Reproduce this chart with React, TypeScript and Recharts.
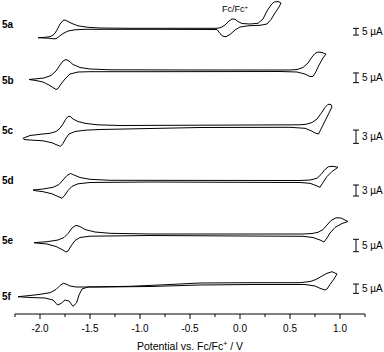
import React from "react";
import { LineChart, Line, XAxis, YAxis, ReferenceLine, ReferenceDot, Label } from "recharts";

// ---- data (potential in V vs Fc/Fc+, current in display units, + = anodic) ----
const traceNames = ["5a", "5b", "5c", "5d", "5e", "5f"];
const traceOffsets = [285.7, 244, 188.5, 133.3, 80, 27.3];
const labelOffsets = [4.3, -10, -4.5, 0, -6.5, -9.3];
const scaleBarLabels = ["5 µA", "5 µA", "3 µA", "3 µA", "5 µA", "5 µA"];
const scaleBarLengths = [6.7, 9.7, 13.3, 11, 12.4, 9.3];
const scaleBarCenters = [-3.4, -7.8, -11.2, -9.8, -11.5, -2];

const potential5a = [-2.02, -1.95, -1.9, -1.86, -1.83, -1.8, -1.77, -1.75, -1.72, -1.68, -1.62, -1.52, -1.4, -1.1, -0.23, -0.19, -0.15, -0.11, -0.08, -0.05, -0.02, 0.02, 0.1, 0.18, 0.23, 0.27, 0.31, 0.34, 0.38, 0.41, 0.39, 0.35, 0.31, 0.27, 0.2, 0.08, 0.0, -0.05, -0.1, -0.14, -0.17, -0.2, -0.23, -0.9, -1.4, -1.55, -1.65, -1.72, -1.77, -1.81, -1.84, -1.87, -1.9, -1.96, -2.02];
const current5a = [-9.4, -9.0, -8.4, -6.2, -1.7, 4.3, 7.8, 8.3, 6.8, 4.8, 2.5, 1.0, 0.3, 0, 0, 0.8, 3.3, 7.3, 9.3, 9.1, 6.8, 4.8, 4.3, 5.0, 9.3, 17.3, 23.3, 26.3, 26.8, 25.3, 21.3, 15.3, 8.8, 4.3, 3.0, 2.5, 1.3, -1.7, -6.2, -8.4, -8.0, -5.2, -1.2, -1.0, -1.0, -1.0, -1.5, -2.7, -5.2, -8.2, -10.4, -10.5, -10.0, -9.7, -9.4];

const potential5b = [-2.11, -2.04, -1.96, -1.89, -1.84, -1.8, -1.77, -1.74, -1.71, -1.67, -1.6, -1.5, -1.3, -0.4, 0.5, 0.57, 0.63, 0.68, 0.72, 0.75, 0.78, 0.82, 0.86, 0.83, 0.79, 0.76, 0.73, 0.7, 0.65, 0.57, 0.4, -0.9, -1.5, -1.62, -1.7, -1.75, -1.79, -1.82, -1.84, -1.87, -1.91, -1.97, -2.04, -2.11];
const current5b = [-9.5, -8.8, -8.0, -5.5, -1.0, 5.0, 9.0, 10.5, 9.0, 5.5, 2.5, 1.0, 0.2, 0, 0, 0.5, 2.5, 7, 13, 16.5, 18, 17.5, 16, 12, 5, -1.5, -6.5, -6.5, -4, -2, -1.5, -1.7, -1.7, -2.0, -4, -9, -14, -18.5, -19.5, -17.5, -15, -12, -10.5, -9.5];

const potential5c = [-2.17, -2.1, -2.0, -1.9, -1.84, -1.8, -1.77, -1.745, -1.72, -1.7, -1.67, -1.62, -1.55, -1.43, -1.2, 0.6, 0.66, 0.72, 0.77, 0.81, 0.85, 0.88, 0.91, 0.92, 0.89, 0.85, 0.81, 0.785, 0.75, 0.71, 0.65, 0.5, -0.4, -1.4, -1.55, -1.65, -1.71, -1.74, -1.77, -1.795, -1.83, -1.88, -1.97, -2.1, -2.16, -2.17];
const current5c = [-12.8, -10, -8.8, -7.8, -6, -2.8, 1.5, 6, 9, 9.2, 6.5, 4, 2.2, 0.7, 0, 0.7, 1.2, 3, 6.5, 12, 18, 21.2, 21, 18.5, 12.5, 4.5, -3.5, -8.5, -7.5, -5.2, -2.8, -1.8, -2.0, -4, -4.7, -6, -8.5, -12.5, -18, -20.8, -19.5, -17.3, -15.3, -14.5, -14, -12.8];

const potential5d = [-2.07, -1.97, -1.87, -1.81, -1.77, -1.73, -1.695, -1.66, -1.6, -1.5, -1.3, 0.6, 0.7, 0.77, 0.81, 0.85, 0.885, 0.93, 0.98, 0.92, 0.87, 0.83, 0.8, 0.76, 0.7, 0.6, -0.9, -1.5, -1.62, -1.68, -1.72, -1.75, -1.78, -1.82, -1.88, -1.97, -2.04, -2.07];
const current5d = [-9.3, -8.3, -6.6, -3.8, 0.7, 5.2, 7.2, 5.7, 3.2, 1.4, 0.4, 0.2, 0.7, 2.4, 6.2, 11.2, 14, 14.4, 13.4, 9.2, 4.2, -1.8, -6.6, -4.8, -2.6, -1.8, -1.3, -1.8, -3.1, -5.6, -9.8, -14.3, -17.6, -15.8, -13.1, -11, -10.1, -9.3];

const potential5e = [-2.06, -1.93, -1.82, -1.76, -1.72, -1.68, -1.64, -1.6, -1.55, -1.45, -1.3, -0.9, 0.63, 0.72, 0.78, 0.83, 0.87, 0.91, 0.96, 1.01, 1.08, 1.02, 0.95, 0.9, 0.87, 0.84, 0.8, 0.73, 0.63, -0.9, -1.5, -1.6, -1.65, -1.69, -1.72, -1.74, -1.78, -1.84, -1.93, -2.02, -2.06];
const current5e = [-8.7, -7.7, -6, -3.5, 0.5, 6, 8.7, 7.5, 4.5, 2, 0.7, 0, 0, 0.5, 1.7, 4.5, 9, 13.5, 16.2, 16, 12.5, 10.5, 6.5, 1, -4, -8, -6, -3.5, -2.3, -1.5, -2.2, -3.5, -6.5, -12, -17, -18, -15.5, -12.5, -10, -9.2, -8.7];

const potential5f = [-2.22, -2.1, -2.0, -1.9, -1.84, -1.8, -1.767, -1.74, -1.7, -1.64, -1.55, -1.1, -0.7, -0.4, 0.1, 0.6, 0.7, 0.76, 0.82, 0.87, 0.92, 0.97, 0.94, 0.9, 0.87, 0.85, 0.8, 0.75, 0.65, 0.1, -0.4, -0.9, -1.4, -1.52, -1.58, -1.61, -1.635, -1.67, -1.71, -1.75, -1.79, -1.825, -1.87, -1.95, -2.1, -2.22];
const current5f = [-10, -8.8, -7.6, -6, -2.8, 1.2, 3.4, 2.7, 0.7, -0.3, -0.3, 0.4, 2.2, 3.7, 4, 4, 5.2, 7.2, 10.7, 13.4, 15, 12.7, 7.7, 2.2, -2.3, -3.3, -1.6, 0.7, 2.2, 2.2, 1.7, 0.2, -0.3, -0.3, -2.3, -8.3, -16.3, -19.6, -14.3, -13.3, -16.8, -18.3, -13.3, -11.3, -10.8, -10];

const potentials = [potential5a, potential5b, potential5c, potential5d, potential5e, potential5f];
const currents = [current5a, current5b, current5c, current5d, current5e, current5f];

const xTicks = [-2.25, -2.0, -1.75, -1.5, -1.25, -1.0, -0.75, -0.5, -0.25, 0, 0.25, 0.5, 0.75, 1.0, 1.25];
const scaleBarPotential = 1.16;
const scaleBarCapHalf = 0.03;
const fcLabelPotential = -0.18;
const fcLabelLevel = 302;

const FONT = "'Liberation Sans', Arial, Helvetica, sans-serif";

const traces = traceNames.map((name, t) => ({
  name,
  points: potentials[t].map((v, i) => ({ x: v, y: traceOffsets[t] + currents[t][i] })),
}));

const labelLevels = traceOffsets.map((o, t) => o + labelOffsets[t]);

const XTick = (props: any) => {
  const { x, y, payload } = props;
  const v = payload.value as number;
  const major = Math.abs(v * 2 - Math.round(v * 2)) < 1e-6;
  const axisY = y - 11;
  return (
    <g>
      <line x1={x} x2={x} y1={axisY} y2={axisY + (major ? 5 : 3)} stroke="#000" strokeWidth={1} />
      {major && (
        <text x={x} y={y} dy="0.71em" textAnchor="middle" fontSize={10} fontFamily={FONT} fill="#000">
          {v.toFixed(1)}
        </text>
      )}
    </g>
  );
};

const YTick = (props: any) => {
  const { y, index } = props;
  return (
    <text x={2} y={y} dy="0.355em" textAnchor="start" fontSize={10} fontWeight="bold" fontFamily={FONT} fill="#000">
      {traceNames[index]}
    </text>
  );
};

const AxisTitle = (props: any) => {
  const vb = props.viewBox;
  return (
    <text x={vb.x + vb.width / 2} y={vb.y + vb.height - 2} textAnchor="middle" fontSize={10.5} fontFamily={FONT} fill="#000">
      Potential vs. Fc/Fc
      <tspan fontSize={7} dy={-4}>+</tspan>
      <tspan dy={4}> / V</tspan>
    </text>
  );
};

const FcLabel = (props: any) => {
  const vb = props.viewBox;
  return (
    <text x={vb.x} y={vb.y} textAnchor="start" fontSize={9} fontFamily={FONT} fill="#000">
      Fc/Fc
      <tspan fontSize={6} dy={-3.5}>+</tspan>
    </text>
  );
};

export default function App() {
  return (
    <div style={{ position: "absolute", left: 0, top: 0, width: 384, height: 352, background: "#fff" }}>
      <LineChart width={384} height={352} margin={{ top: 0, right: 19, left: 0, bottom: 0 }}>
        <XAxis
          dataKey="x"
          type="number"
          domain={[-2.25, 1.25]}
          ticks={xTicks}
          interval={0}
          allowDataOverflow
          height={38}
          stroke="#000"
          tickLine={false}
          tickSize={5}
          tickMargin={6}
          tick={<XTick />}
        >
          <Label content={<AxisTitle />} />
        </XAxis>
        <YAxis
          type="number"
          domain={[0, 314]}
          allowDataOverflow
          width={15}
          ticks={labelLevels}
          interval={0}
          axisLine={false}
          tickLine={false}
          tick={<YTick />}
        />
        {traces.map((tr) => (
          <Line
            key={tr.name}
            data={tr.points}
            dataKey="y"
            type="linear"
            stroke="#000"
            strokeWidth={1}
            dot={false}
            activeDot={false}
            isAnimationActive={false}
          />
        ))}
        {traceNames.map((name, t) => {
          const c = traceOffsets[t] + scaleBarCenters[t];
          const half = scaleBarLengths[t] / 2;
          return (
            <React.Fragment key={"sb" + name}>
              <ReferenceLine
                segment={[{ x: scaleBarPotential, y: c - half }, { x: scaleBarPotential, y: c + half }]}
                stroke="#000"
                strokeWidth={1}
                ifOverflow="visible"
                label={{ value: scaleBarLabels[t], position: "right", offset: 6, fontSize: 10, fill: "#000", fontFamily: FONT }}
              />
              <ReferenceLine
                segment={[{ x: scaleBarPotential - scaleBarCapHalf, y: c + half }, { x: scaleBarPotential + scaleBarCapHalf, y: c + half }]}
                stroke="#000"
                strokeWidth={1}
                ifOverflow="visible"
              />
              <ReferenceLine
                segment={[{ x: scaleBarPotential - scaleBarCapHalf, y: c - half }, { x: scaleBarPotential + scaleBarCapHalf, y: c - half }]}
                stroke="#000"
                strokeWidth={1}
                ifOverflow="visible"
              />
            </React.Fragment>
          );
        })}
        <ReferenceDot
          x={fcLabelPotential}
          y={fcLabelLevel}
          r={0}
          fill="none"
          stroke="none"
          ifOverflow="visible"
          label={<FcLabel />}
        />
      </LineChart>
    </div>
  );
}
